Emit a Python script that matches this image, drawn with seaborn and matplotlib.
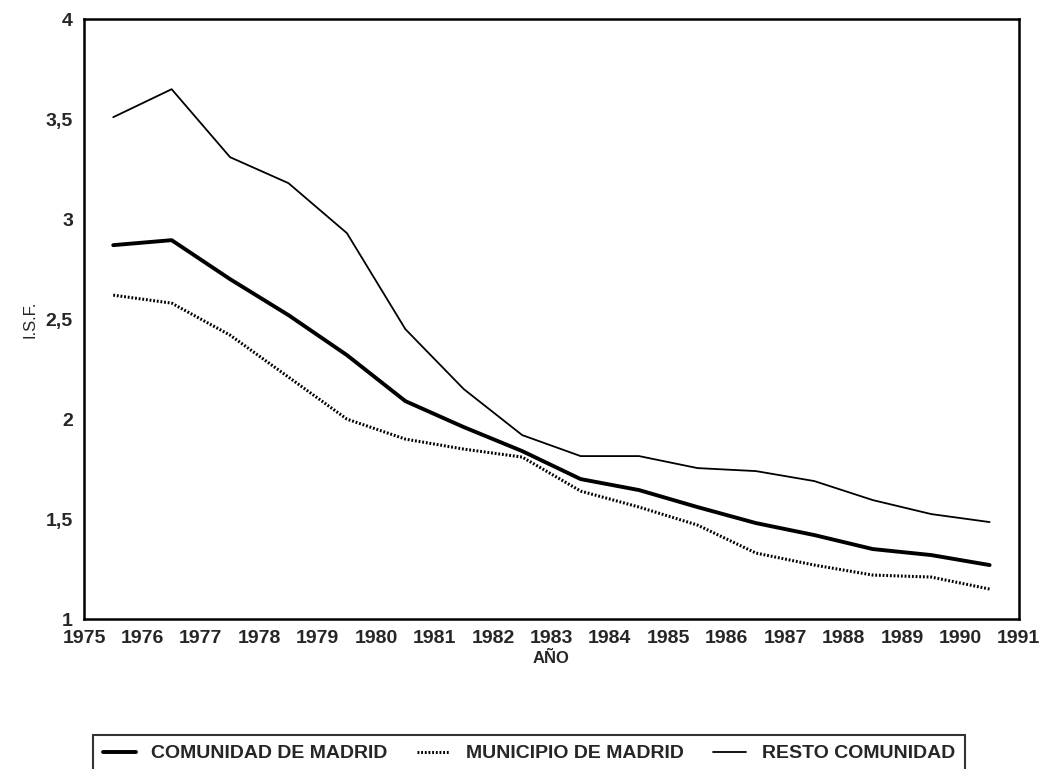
import pandas as pd
import matplotlib.pyplot as plt
import seaborn as sns

# Datos
anios = [1975.5, 1976.5, 1977.5, 1978.5, 1979.5, 1980.5, 1981.5, 1982.5,
         1983.5, 1984.5, 1985.5, 1986.5, 1987.5, 1988.5, 1989.5, 1990.5]
comunidad = [2.87, 2.895, 2.70, 2.52, 2.32, 2.09, 1.96, 1.84,
             1.70, 1.645, 1.56, 1.48, 1.42, 1.35, 1.32, 1.27]
municipio = [2.62, 2.58, 2.42, 2.21, 2.00, 1.90, 1.85, 1.81,
             1.64, 1.56, 1.47, 1.33, 1.27, 1.22, 1.21, 1.15]
resto = [3.51, 3.65, 3.31, 3.18, 2.93, 2.45, 2.15, 1.92,
         1.815, 1.815, 1.755, 1.74, 1.69, 1.595, 1.525, 1.485]
xticks = list(range(1975, 1992))
yticks = [1, 1.5, 2, 2.5, 3, 3.5, 4]
ytick_labels = ["1", "1,5", "2", "2,5", "3", "3,5", "4"]

df = pd.DataFrame({"Año": anios, "COMUNIDAD DE MADRID": comunidad,
                   "MUNICIPIO DE MADRID": municipio, "RESTO COMUNIDAD": resto})

sns.set_style("white")
plt.rcParams["font.family"] = ["Liberation Sans", "DejaVu Sans"]
plt.rcParams["font.weight"] = "bold"

fig = plt.figure(figsize=(10.41, 7.69), dpi=100)
ax = fig.add_axes([0.0807, 0.195, 0.898, 0.780])

sns.lineplot(data=df, x="Año", y="COMUNIDAD DE MADRID", ax=ax, color="black",
             linewidth=2.8, label="COMUNIDAD DE MADRID")
sns.lineplot(data=df, x="Año", y="MUNICIPIO DE MADRID", ax=ax, color="black",
             linewidth=2.2, linestyle=(0, (0.6, 0.6)), label="MUNICIPIO DE MADRID")
sns.lineplot(data=df, x="Año", y="RESTO COMUNIDAD", ax=ax, color="black",
             linewidth=1.3, label="RESTO COMUNIDAD")

ax.set_xlim(1975, 1991)
ax.set_ylim(1, 4)
ax.set_xticks(xticks)
ax.set_yticks(yticks)
ax.set_yticklabels(ytick_labels)
ax.tick_params(axis="x", direction="in", length=6, width=1.3, labelsize=14, pad=8)
ax.tick_params(axis="y", direction="out", length=6, width=1.3, labelsize=14, pad=2)
for s in ax.spines.values():
    s.set_color("black")
    s.set_linewidth(1.8)

ax.set_xlabel("AÑO", fontsize=12, fontweight="bold", labelpad=3)
ax.set_ylabel("I.S.F.", fontsize=12, fontweight="normal", labelpad=6)

ax.get_legend().remove()
handles, labels = ax.get_legend_handles_labels()
leg = fig.legend(handles, labels, loc="upper left", ncol=3,
                 bbox_to_anchor=(93 / 1041, 1 - 735 / 769 - 0.04, 872 / 1041, 0.04),
                 mode="expand", fontsize=14, frameon=True, fancybox=False,
                 handlelength=1.7, handletextpad=0.8, borderpad=0.5,
                 borderaxespad=0)
leg.get_frame().set_edgecolor("black")
leg.get_frame().set_linewidth(1.5)

plt.savefig("out.png", dpi=100)
plt.close()
